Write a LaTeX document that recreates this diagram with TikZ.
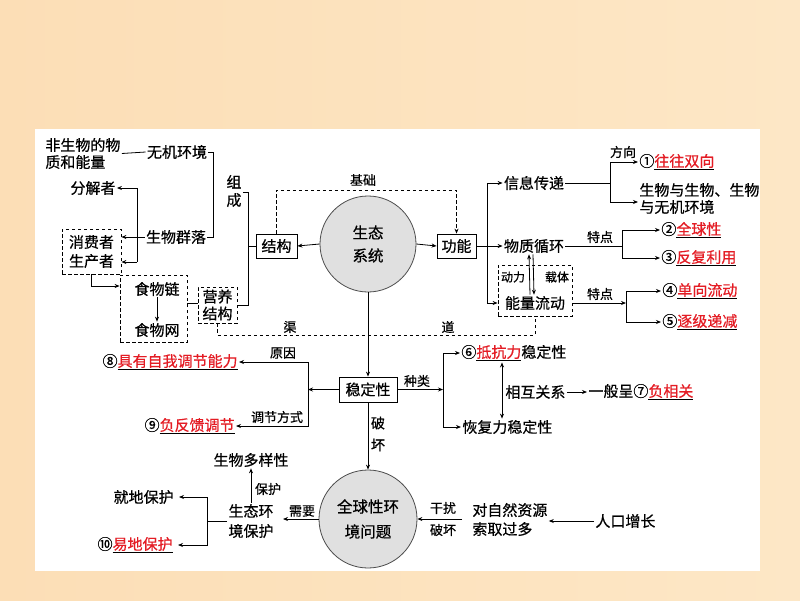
\documentclass[tikz,border=0pt]{standalone}
\usepackage{fontspec}
\setmainfont{Noto Sans CJK SC}[FakeBold=0.6]
\usetikzlibrary{arrows.meta}
\definecolor{ansred}{RGB}{228,28,36}
\definecolor{bgl}{RGB}{252,222,182}
\definecolor{bgr}{RGB}{253,231,198}
\newcommand{\ans}[1]{\underline{\textcolor{ansred}{#1}}}
\begin{document}
\begin{tikzpicture}[x=1pt,y=-1pt,
  every node/.style={inner sep=1pt},
  txt/.style={font=\fontsize{15}{17}\selectfont, align=center},
  lbl/.style={font=\fontsize{13}{15}\selectfont, align=center},
  sm/.style={font=\fontsize{12}{14}\selectfont},
  box/.style={draw, txt, inner sep=0pt, minimum height=24pt},
  dbox/.style={draw, dash pattern=on 3.5pt off 2.5pt},
  ddash/.style={dash pattern=on 3.5pt off 2.5pt},
  arr/.style={-{Stealth[length=5pt,width=4pt]}},
  darr/.style={{Stealth[length=5pt,width=4pt]}-{Stealth[length=5pt,width=4pt]}},
  eco/.style={circle, draw=black!70, fill=black!12, txt},
  line width=0.8pt]
\shade[left color=bgl, right color=bgr] (0,0) rectangle (800,600);
\fill[white] (35,129) rectangle (760,571);
\useasboundingbox (0,0) rectangle (800,600);

% ---- left: composition
\node[txt, align=left, anchor=west] (abio) at (44,153.5) {非生物的物\\质和能量};
\node[txt] (wjhj) at (177,152) {无机环境};
\node[txt] (swql) at (176,237) {生物群落};
\node[txt, font=\fontsize{15}{18}\selectfont] (zc) at (234,191) {组\\成};
\node[txt] (fjz) at (93,188) {分解者};
\node[dbox, txt, minimum width=59pt, minimum height=45pt, font=\fontsize{15}{19}\selectfont] (xfz) at (91.5,251.5) {消费者\\生产者};
\node[dbox, minimum width=67pt, minimum height=67pt] (swbox) at (153.5,308.5) {};
\node[txt] (swl) at (157,289) {食物链};
\node[txt] (sww) at (157,330) {食物网};
\node[dbox, txt, minimum width=39pt, minimum height=36pt] (yyjg) at (217.5,305) {营养\\结构};
\node[box, minimum width=41pt] (jg) at (276.5,246) {结构};
\node[eco, minimum size=96pt, font=\fontsize{15.5}{23}\selectfont] (eco) at (368,244) {生态\\系统};
\node[box, minimum width=39pt] (gn) at (456.5,246) {功能};
\node[lbl] (jichu) at (363,180) {基础};
\node[lbl] (qu) at (290,327) {渠};
\node[lbl] (dao) at (448,327) {道};

% ---- right: functions
\node[txt] (xxcd) at (534,183) {信息传递};
\node[txt] (wzxh) at (534,246) {物质循环};
\node[dbox, minimum width=74pt, minimum height=51pt] (nbox) at (535,290.5) {};
\node[sm] (dl) at (513,277) {动力};
\node[sm] (zt) at (557,277) {载体};
\node[txt] (nlld) at (535,303) {能量流动};
\node[lbl] (fx) at (623,152) {方向};
\node[txt, anchor=west] (a1) at (638,162) {①\ans{往往双向}};
\node[txt, anchor=west, align=left] (swyw) at (638,198.5) {生物与生物、生物\\与无机环境};
\node[lbl] (td1) at (600,237) {特点};
\node[txt, anchor=west] (a2) at (660,230) {②\ans{全球性}};
\node[txt, anchor=west] (a3) at (660,258) {③\ans{反复利用}};
\node[lbl] (td2) at (600,294) {特点};
\node[txt, anchor=west] (a4) at (661,291) {④\ans{单向流动}};
\node[txt, anchor=west] (a5) at (661,322) {⑤\ans{逐级递减}};

% ---- stability
\node[box, minimum width=58pt, minimum height=25pt] (wdx) at (368,389.5) {稳定性};
\node[txt, anchor=east] (a8) at (239,362) {⑧\ans{具有自我调节能力}};
\node[txt, anchor=east] (a9) at (236,426) {⑨\ans{负反馈调节}};
\node[lbl] (yy) at (283,353) {原因};
\node[lbl] (tjfs) at (277,417) {调节方式};
\node[lbl] (zl) at (417,381) {种类};
\node[txt, anchor=west] (a6) at (460,353) {⑥\ans{抵抗力}稳定性};
\node[txt, anchor=west] (hfl) at (461,427) {恢复力稳定性};
\node[txt, anchor=west] (xhgx) at (504,392) {相互关系};
\node[txt, anchor=west] (a7) at (587,392) {一般呈⑦\ans{负相关}};
\node[lbl, font=\fontsize{14}{22}\selectfont] (ph) at (378,434) {破\\坏};

% ---- bottom
\node[eco, minimum size=98pt, font=\fontsize{15.5}{25}\selectfont] (gep) at (368,519) {全球性环\\境问题};
\node[txt, anchor=west, align=left, font=\fontsize{15}{19}\selectfont] (zrzy) at (471,519.5) {对自然资源\\索取过多};
\node[lbl] (gr) at (443,508) {干扰};
\node[lbl] (ph2) at (443,530) {破坏};
\node[txt, anchor=west] (rkzz) at (594,521) {人口增长};
\node[txt, font=\fontsize{15}{20}\selectfont] (sthj) at (251,521) {生态环\\境保护};
\node[lbl] (xy) at (302,511) {需要};
\node[txt] (swdyx) at (251,460) {生物多样性};
\node[lbl] (bh) at (268,489) {保护};
\node[txt, anchor=east] (jdbh) at (175,497) {就地保护};
\node[txt, anchor=east] (a10) at (174,545) {⑩\ans{易地保护}};

% ---- junction coordinates
\coordinate (jA) at (213,152);
\coordinate (jB) at (248,192);
\coordinate (jC) at (248,305);
\coordinate (jD) at (137,188);
\coordinate (jE) at (137,262);
\coordinate (jF) at (92,286);
\coordinate (jG) at (190,303);
\coordinate (jH) at (535,335);
\coordinate (jJ) at (277,190);
\coordinate (jK1) at (487,183);
\coordinate (jK3) at (487,303);
\coordinate (jL) at (610,183);
\coordinate (jM) at (610,202);
\coordinate (jN) at (622,246);
\coordinate (jP) at (626,303);
\coordinate (jQ) at (308,389.5);
\coordinate (jR) at (443,389.5);
\coordinate (jS) at (502,0);
\coordinate (jT) at (462,519);
\coordinate (jU) at (283,519);
\coordinate (jV) at (207,521);

% ---- connectors, left
\draw (abio.east) -- (wjhj.west);
\draw (wjhj.east) -- (jA) |- (swql.east);
\draw (zc.east |- jB) -- (jB) -- (jC) -- (yyjg.east |- jC);
\draw (jB |- jg) -- (jg.west);
\draw[arr] (jD) -- (fjz.east);
\draw (jD) -- (jE);
\draw[arr] (jE) -- (xfz.east |- jE);
\draw[arr] (swql.west) -- (xfz.east |- swql);
\draw[arr] (xfz.south) |- (swbox.west |- jF);
\draw[arr] (swl.south) -- (sww.north);
\draw (swbox.east |- jG) -- (yyjg.west |- jG);
\draw[ddash] (yyjg.south) |- (jH) -- (nbox.south);
\draw[arr] (eco.west) -- (jg.east);
\draw[arr] (eco.east) -- (gn.west);
\draw[ddash, arr] (jg.north) |- (gn.north |- jJ) -- (gn.north);

% ---- connectors, right
\draw (jK1) -- (jK3);
\draw[arr] (jK1) -- (xxcd.west);
\draw[arr] (gn.east) -- (wzxh.west);
\draw[arr] (jK3) -- (nbox.west |- jK3);
\draw[arr] ([xshift=-5pt]nlld.north) -- ([xshift=-5pt]wzxh.south);
\draw[arr] ([xshift=-1pt]wzxh.south) -- ([xshift=-1pt]nlld.north);
\draw (xxcd.east) -- (jL);
\draw[arr] (jL) |- (a1.west);
\draw[arr] (jL) -- (jM) -- (swyw.west |- jM);
\draw (wzxh.east) -- (jN);
\draw[arr] (jN) |- (a2.west);
\draw[arr] (jN) |- (a3.west);
\draw[arr] (nbox.east |- jP) -- (jP);
\draw[arr] (jP) |- (a4.west);
\draw[arr] (jP) |- (a5.west);

% ---- connectors, stability
\draw[arr] (eco.south) -- (wdx.north);
\draw[arr] (wdx.west) -- (jQ);
\draw[arr] (jQ) |- (a8.east);
\draw[arr] (jQ) |- (a9.east);
\draw[arr] (wdx.east) -- (jR);
\draw[arr] (jR) |- (a6.west);
\draw[arr] (jR) |- (hfl.west);
\draw[darr] (a6.south -| jS) -- (hfl.north -| jS);
\draw[arr] (xhgx.east) -- (a7.west);

% ---- connectors, bottom
\draw[arr] (wdx.south) -- (gep.north);
\draw[arr] (jT) -- (gep.east);
\draw[arr] (rkzz.west) -- (zrzy.east |- rkzz);
\draw[arr] (gep.west) -- (jU);
\draw[arr] (sthj.north) -- (swdyx.south);
\draw (sthj.west) -- (jV);
\draw[arr, shorten >=4pt] (jV) |- (jdbh.east);
\draw[arr, shorten >=4pt] (jV) |- (a10.east);
\end{tikzpicture}
\end{document}
